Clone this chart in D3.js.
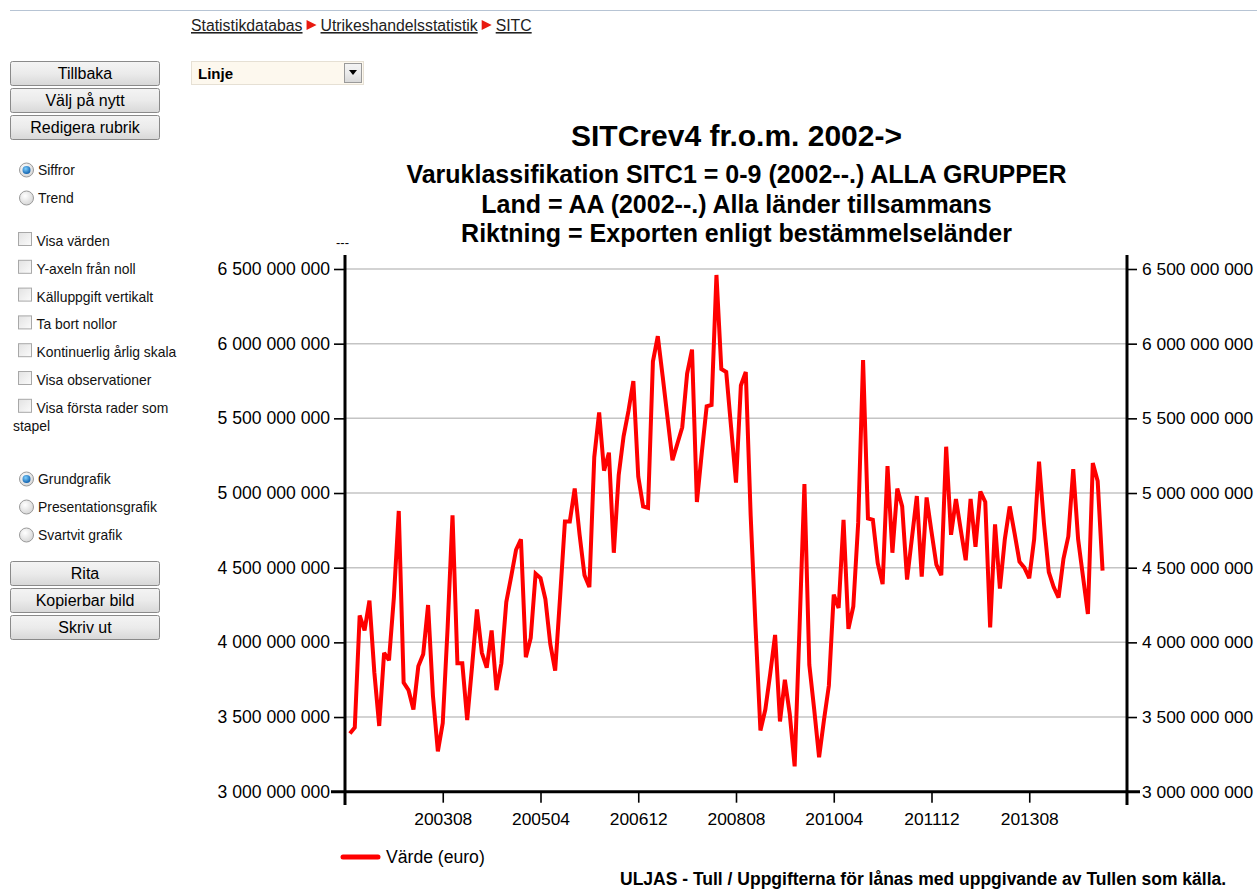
<!DOCTYPE html>
<html><head><meta charset="utf-8">
<script src="https://cdn.jsdelivr.net/npm/d3@7"></script>
<style>
html,body{margin:0;padding:0;background:#fff;}
svg{display:block;font-family:"Liberation Sans",Arial,sans-serif;}
</style></head>
<body>
<svg id="page" width="1257" height="889"></svg>
<script>
// ---------- DATA ----------
const startYear = 2002, startMonth = 1;
const seriesName = "Värde (euro)";
// monthly export values, billions of euro, 200201 .. 201411
const values = [
 3.39,3.43,4.18,4.08,4.28,3.80,3.44,3.93,3.88,4.30,4.88,3.73,
 3.68,3.55,3.84,3.92,4.25,3.64,3.27,3.46,4.10,4.85,3.86,3.86,
 3.48,3.84,4.22,3.93,3.83,4.08,3.68,3.86,4.27,4.44,4.62,4.69,
 3.90,4.03,4.46,4.43,4.29,3.99,3.81,4.30,4.81,4.81,5.03,4.72,
 4.45,4.37,5.24,5.54,5.15,5.27,4.60,5.12,5.38,5.55,5.75,5.11,
 4.91,4.90,5.88,6.05,5.78,5.50,5.22,5.33,5.44,5.80,5.96,4.94,
 5.27,5.58,5.59,6.46,5.83,5.81,5.44,5.07,5.72,5.81,4.85,4.10,
 3.41,3.55,3.79,4.05,3.47,3.75,3.52,3.17,4.10,5.06,3.85,3.55,
 3.23,3.48,3.71,4.32,4.23,4.82,4.09,4.24,4.80,5.89,4.83,4.82,
 4.53,4.39,5.18,4.60,5.03,4.91,4.42,4.70,4.98,4.44,4.97,4.74,
 4.52,4.45,5.31,4.72,4.96,4.75,4.55,4.96,4.64,5.01,4.94,4.10,
 4.79,4.36,4.69,4.91,4.73,4.54,4.50,4.43,4.69,5.21,4.80,4.47,
 4.37,4.30,4.56,4.71,5.16,4.69,4.44,4.19,5.20,5.08,4.48
];
const xTickLabels = ["200308","200504","200612","200808","201004","201112","201308"];
const yTickValues = [3.0e9,3.5e9,4.0e9,4.5e9,5.0e9,5.5e9,6.0e9,6.5e9];
const titleText = "SITCrev4 fr.o.m. 2002->";
const subtitleLines = [
 "Varuklassifikation SITC1 = 0-9 (2002--.) ALLA GRUPPER",
 "Land = AA (2002--.) Alla länder tillsammans",
 "Riktning = Exporten enligt bestämmelseländer"
];
const breadcrumb = ["Statistikdatabas","Utrikeshandelsstatistik","SITC"];
const buttonsTop = ["Tillbaka","Välj på nytt","Redigera rubrik"];
const buttonsBottom = ["Rita","Kopierbar bild","Skriv ut"];
const radiosA = [["Siffror",true],["Trend",false]];
const checks = ["Visa värden","Y-axeln från noll","Källuppgift vertikalt","Ta bort nollor","Kontinuerlig årlig skala","Visa observationer","Visa första rader som"];
const radiosB = [["Grundgrafik",true],["Presentationsgrafik",false],["Svartvit grafik",false]];
const footerText = "ULJAS - Tull / Uppgifterna för lånas med uppgivande av Tullen som källa.";

// ---------- derived ----------
const periods = values.map((v,i)=>{
  const m = startMonth - 1 + i;
  const y = startYear + Math.floor(m/12), mm = (m%12)+1;
  return String(y) + String(mm).padStart(2,"0");
});
const data = values.map((v,i)=>({i, p:periods[i], v:v*1e9}));

const svg = d3.select("#page");
const defs = svg.append("defs");
const bg = defs.append("linearGradient").attr("id","btnGrad").attr("x1",0).attr("y1",0).attr("x2",0).attr("y2",1);
bg.append("stop").attr("offset","0%").attr("stop-color","#f4f4f4");
bg.append("stop").attr("offset","50%").attr("stop-color","#ebebeb");
bg.append("stop").attr("offset","100%").attr("stop-color","#d8d8d8");
const rg = defs.append("radialGradient").attr("id","radGrad").attr("cx","40%").attr("cy","35%").attr("r","70%");
rg.append("stop").attr("offset","0%").attr("stop-color","#ffffff");
rg.append("stop").attr("offset","100%").attr("stop-color","#d4d4d4");
const dg = defs.append("radialGradient").attr("id","dotGrad").attr("cx","40%").attr("cy","35%").attr("r","70%");
dg.append("stop").attr("offset","0%").attr("stop-color","#7fd0ff");
dg.append("stop").attr("offset","100%").attr("stop-color","#0a5aa8");
const cg = defs.append("linearGradient").attr("id","chkGrad").attr("x1",0).attr("y1",0).attr("x2",1).attr("y2",1);
cg.append("stop").attr("offset","0%").attr("stop-color","#e2e2e2");
cg.append("stop").attr("offset","100%").attr("stop-color","#fbfbfb");

// top rule
svg.append("line").attr("x1",10).attr("x2",1257).attr("y1",10.5).attr("y2",10.5)
  .attr("stroke","#b7c4d4").attr("stroke-width",1);

// breadcrumb
(function(){
  let x = 191;
  const g = svg.append("g").attr("font-size","15.8px").attr("fill","#222");
  breadcrumb.forEach((t,k)=>{
    const tx = g.append("text").attr("x",x).attr("y",31).text(t).attr("text-decoration","underline");
    const w = tx.node().getComputedTextLength();
    x += w;
    if(k < breadcrumb.length-1){
      g.append("path").attr("d",`M${x+4},${20} L${x+14},${25} L${x+4},${30} Z`).attr("fill","#e8190f");
      x += 18;
    }
  });
})();

// buttons
function button(y,label){
  const g = svg.append("g");
  g.append("rect").attr("x",10.5).attr("y",y+0.5).attr("width",149).attr("height",24).attr("rx",2)
    .attr("fill","url(#btnGrad)").attr("stroke","#8a8a8a");
  g.append("text").attr("x",85).attr("y",y+18).attr("text-anchor","middle").attr("font-size","16px").attr("fill","#000").text(label);
}
buttonsTop.forEach((b,k)=>button(61+k*27,b));
buttonsBottom.forEach((b,k)=>button(561+k*27,b));

// dropdown
(function(){
  const g = svg.append("g");
  g.append("rect").attr("x",191.5).attr("y",61.5).attr("width",172).attr("height",23).attr("fill","#fdf8ee").attr("stroke","#e6e0d4");
  g.append("text").attr("x",198).attr("y",79).attr("font-size","15px").attr("font-weight","bold").text("Linje");
  g.append("rect").attr("x",344.5).attr("y",63.5).attr("width",17).attr("height",19).attr("fill","url(#btnGrad)").attr("stroke","#9a9a9a");
  g.append("path").attr("d","M349,70 L357,70 L353,75 Z").attr("fill","#000");
})();

// radios & checkboxes
function radio(y,label,on){
  const g = svg.append("g");
  g.append("circle").attr("cx",26.5).attr("cy",y).attr("r",7).attr("fill","url(#radGrad)").attr("stroke","#9a9a9a");
  if(on) g.append("circle").attr("cx",26.5).attr("cy",y).attr("r",4).attr("fill","url(#dotGrad)");
  g.append("text").attr("x",38).attr("y",y+5).attr("font-size","13.9px").attr("fill","#111").text(label);
}
function check(y,label){
  const g = svg.append("g");
  g.append("rect").attr("x",18.5).attr("y",y-8.5).attr("width",13).attr("height",13).attr("fill","url(#chkGrad)").attr("stroke","#a8a8a8");
  g.append("text").attr("x",36.5).attr("y",y+5).attr("font-size","13.9px").attr("fill","#111").text(label);
}
radiosA.forEach((r,k)=>radio(170+k*28,r[0],r[1]));
checks.forEach((c,k)=>check(241+k*27.8,c));
svg.append("text").attr("x",13).attr("y",431).attr("font-size","13.9px").attr("fill","#111").text("stapel");
radiosB.forEach((r,k)=>radio(479+k*28,r[0],r[1]));

// ---------- chart ----------
const x0 = 345, x1 = 1127, yTop = 269, yBot = 791.7;
const x = d3.scaleLinear().domain([-1, 159]).range([x0, x1]);
const y = d3.scaleLinear().domain([3e9, 6.5e9]).range([yBot, yTop]);
const fmt = v => d3.format(",")(v).replace(/,/g," ");

// titles
svg.append("text").attr("x",736.5).attr("y",146).attr("text-anchor","middle")
  .attr("font-size","30px").attr("font-weight","bold").text(titleText);
subtitleLines.forEach((t,k)=>{
  svg.append("text").attr("x",736.5).attr("y",183+k*29.5).attr("text-anchor","middle")
    .attr("font-size","25px").attr("font-weight","bold").text(t);
});

// gridlines
svg.append("g").selectAll("line").data(yTickValues).join("line")
  .attr("x1",x0).attr("x2",x1).attr("y1",d=>y(d)).attr("y2",d=>y(d))
  .attr("stroke","#c4c4c4").attr("stroke-width",1.5);

// left axis
const gL = svg.append("g").attr("transform",`translate(${x0},0)`)
  .call(d3.axisLeft(y).tickValues(yTickValues).tickFormat(fmt).tickSize(11).tickPadding(4));
gL.select(".domain").remove();
gL.selectAll(".tick line").attr("stroke","#000").attr("stroke-width",1.6);
gL.selectAll(".tick text").attr("font-size","17.6px").attr("fill","#000").attr("font-family","Liberation Sans, Arial, sans-serif");
// right axis
const gR = svg.append("g").attr("transform",`translate(${x1},0)`)
  .call(d3.axisRight(y).tickValues(yTickValues).tickFormat(fmt).tickSize(10).tickPadding(5));
gR.select(".domain").remove();
gR.selectAll(".tick line").attr("stroke","#000").attr("stroke-width",1.6);
gR.selectAll(".tick text").attr("font-size","17.4px").attr("fill","#000").attr("font-family","Liberation Sans, Arial, sans-serif");

// bottom axis
const tickIdx = xTickLabels.map(l=>periods.indexOf(l));
const gB = svg.append("g").attr("transform",`translate(0,${yBot})`)
  .call(d3.axisBottom(x).tickValues(tickIdx).tickFormat(i=>periods[i]).tickSize(11).tickPadding(10));
gB.select(".domain").remove();
gB.selectAll(".tick line").attr("stroke","#000").attr("stroke-width",1.6);
gB.selectAll(".tick text").attr("font-size","17.4px").attr("fill","#000").attr("font-family","Liberation Sans, Arial, sans-serif");

// axis lines
svg.append("line").attr("x1",331).attr("x2",1140).attr("y1",yBot).attr("y2",yBot).attr("stroke","#000").attr("stroke-width",3);
svg.append("line").attr("x1",x0).attr("x2",x0).attr("y1",255).attr("y2",805).attr("stroke","#000").attr("stroke-width",3);
svg.append("line").attr("x1",x1).attr("x2",x1).attr("y1",255).attr("y2",805).attr("stroke","#000").attr("stroke-width",3);
svg.append("text").attr("x",336).attr("y",247).attr("font-size","13px").text("---");

// line
const line = d3.line().x(d=>x(d.i)).y(d=>y(d.v));
svg.append("path").datum(data).attr("d",line).attr("fill","none")
  .attr("stroke","#ff0000").attr("stroke-width",4).attr("stroke-linejoin","miter").attr("stroke-miterlimit",3);

// legend
svg.append("line").attr("x1",343).attr("x2",378).attr("y1",857).attr("y2",857)
  .attr("stroke","#ff0000").attr("stroke-width",5).attr("stroke-linecap","round");
svg.append("text").attr("x",386).attr("y",863).attr("font-size","17.6px").text(seriesName);

// footer
svg.append("text").attr("x",620).attr("y",884.5).attr("font-size","17.5px").attr("font-weight","bold").text(footerText);
</script>
</body></html>
